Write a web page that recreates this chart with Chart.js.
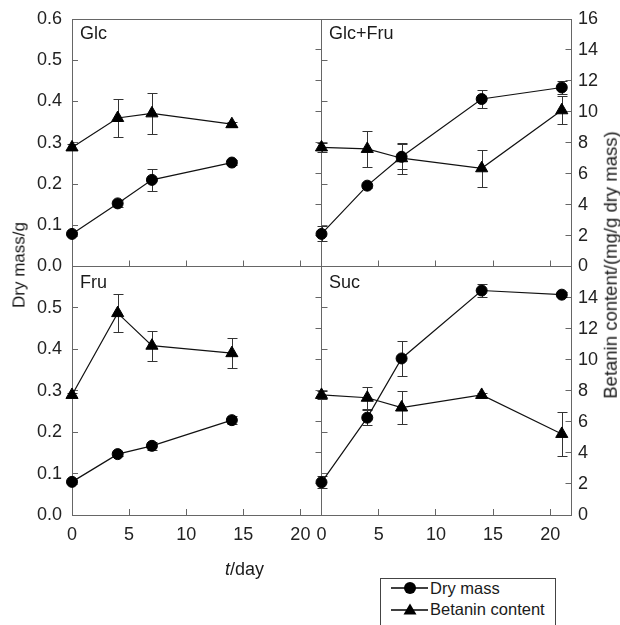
<!DOCTYPE html>
<html><head><meta charset="utf-8">
<script src="https://cdn.jsdelivr.net/npm/chart.js@4/dist/chart.umd.min.js"></script>
<style>
html,body{margin:0;padding:0;background:#fff;}
#wrap{position:relative;width:620px;height:625px;overflow:hidden;font-family:"Liberation Sans",Arial,sans-serif;color:#1a1a1a;}
#wrap canvas{position:absolute;left:0;top:0;}
.t{position:absolute;white-space:nowrap;font-size:18px;line-height:18px;}
.rot{position:absolute;white-space:nowrap;font-size:17px;line-height:17px;transform:translate(-50%,-50%) rotate(-90deg);}
#legend{position:absolute;left:380px;top:578px;width:174px;height:60px;border:1px solid #444;background:#fff;}
#legend .row{position:absolute;left:10px;height:16px;font-size:16.5px;line-height:16.5px;}
#legend svg{position:absolute;left:0;top:0;}
#legend span{position:absolute;left:39px;top:0;white-space:nowrap;}
</style></head>
<body>
<div id="wrap">
  <canvas id="cTL" width="620" height="625"></canvas>
  <canvas id="cTR" width="620" height="625"></canvas>
  <canvas id="cBL" width="620" height="625"></canvas>
  <canvas id="cBR" width="620" height="625"></canvas>
  <div class="t" id="nTL" style="left:80px;top:24px;">Glc</div>
  <div class="t" id="nTR" style="left:329px;top:24px;">Glc+Fru</div>
  <div class="t" id="nBL" style="left:80px;top:273px;">Fru</div>
  <div class="t" id="nBR" style="left:329px;top:273px;">Suc</div>
  <div class="rot" style="left:18.5px;top:264.5px;">Dry mass/g</div>
  <div class="rot" style="left:611px;top:265px;font-size:18.5px;line-height:18.5px;">Betanin content/(mg/g dry mass)</div>
  <div class="t" style="left:225px;top:560px;"><i>t</i>/day</div>
  <div id="legend">
    <div class="row" style="top:1px;">
      <svg width="40" height="16"><line x1="0" y1="8" x2="37" y2="8" stroke="#000" stroke-width="1.5"/><circle cx="19" cy="8" r="6" fill="#000"/></svg>
      <span>Dry mass</span>
    </div>
    <div class="row" style="top:22px;">
      <svg width="40" height="16"><line x1="0" y1="9" x2="37" y2="9" stroke="#000" stroke-width="1.5"/><polygon points="19,2.5 25.5,13.5 12.5,13.5" fill="#000"/></svg>
      <span>Betanin content</span>
    </div>
  </div>
</div>
<script>
// ---- data ----
const panelNames = ['Glc', 'Glc+Fru', 'Fru', 'Suc'];
const dayTicks = [0, 5, 10, 15, 20];
const dayTickLabels = ['0', '5', '10', '15', '20'];
const dryTicks = [0, 0.1, 0.2, 0.3, 0.4, 0.5, 0.6];
const dryTickLabels = ['0.0', '0.1', '0.2', '0.3', '0.4', '0.5', '0.6'];
const betTicks = [0, 2, 4, 6, 8, 10, 12, 14, 16];
const betTickLabels = ['0', '2', '4', '6', '8', '10', '12', '14', '16'];

const daysShort = [0, 4, 7, 14];
const daysLong = [0, 4, 7, 14, 21];

const glcDry = [0.079, 0.153, 0.210, 0.252];
const glcDryErr = [0.004, 0.008, 0.026, 0.007];
const glcBet = [7.7, 9.6, 9.9, 9.2];
const glcBetErr = [0.2, 1.26, 1.33, 0.15];

const glcFruDry = [0.079, 0.196, 0.266, 0.406, 0.434];
const glcFruDryErr = [0.018, 0.005, 0.03, 0.022, 0.016];
const glcFruBet = [7.7, 7.6, 7.0, 6.35, 10.1];
const glcFruBetErr = [0.28, 1.15, 1.0, 1.18, 0.92];

const fruDry = [0.080, 0.147, 0.167, 0.229];
const fruDryErr = [0.004, 0.004, 0.01, 0.01];
const fruBet = [7.73, 13.0, 10.9, 10.42];
const fruBetErr = [0.15, 1.24, 0.97, 0.95];

const sucDry = [0.079, 0.235, 0.378, 0.542, 0.532];
const sucDryErr = [0.015, 0.018, 0.042, 0.015, 0.006];
const sucBet = [7.73, 7.55, 6.92, 7.73, 5.22];
const sucBetErr = [0.25, 0.72, 1.07, 0.15, 1.43];

// ---- styling ----
const AXIS = '#666';
const TXT = '#222';
const FONT = {family: "'Liberation Sans', Arial, sans-serif", size: 18};
const XMAX = 21.85;
const LW = 60, RW = 45, XH = 40;   // room reserved for tick labels

const errorBars = {
  id: 'errorBars',
  beforeDatasetsDraw(chart) {
    const ctx = chart.ctx;
    chart.data.datasets.forEach((ds, di) => {
      const meta = chart.getDatasetMeta(di);
      const xs = chart.scales[meta.xAxisID], ys = chart.scales[meta.yAxisID];
      ds.data.forEach((p, i) => {
        const e = ds.err[i];
        if (!e) return;
        const x = Math.round(xs.getPixelForValue(p.x)) + 0.5;
        const y1 = Math.round(ys.getPixelForValue(p.y - e)) + 0.5;
        const y2 = Math.round(ys.getPixelForValue(p.y + e)) + 0.5;
        ctx.save();
        ctx.strokeStyle = '#333';
        ctx.lineWidth = 1;
        ctx.beginPath();
        ctx.moveTo(x, y1); ctx.lineTo(x, y2);
        ctx.moveTo(x - 5, y1); ctx.lineTo(x + 5, y1);
        ctx.moveTo(x - 5, y2); ctx.lineTo(x + 5, y2);
        ctx.stroke();
        ctx.restore();
      });
    });
  }
};

function setTicks(values) {
  return s => { s.ticks = values.map(v => ({value: v})); };
}

function panel(id, area, days, dry, dryErr, bet, betErr, show) {
  const W = 620, H = 625;
  const lw = show.left ? LW : 0, rw = show.right ? RW : 0, xh = show.x ? XH : 0;
  const fixW = w => s => { s.width = w; s.paddingTop = 0; s.paddingBottom = 0; };
  const fixH = h => s => { s.height = h; s.paddingLeft = 0; s.paddingRight = 0; };
  return new Chart(document.getElementById(id), {
    type: 'line',
    data: {
      datasets: [
        {
          label: 'Dry mass',
          data: days.map((d, i) => ({x: d, y: dry[i]})),
          err: dryErr,
          xAxisID: 'x', yAxisID: 'yL',
          borderColor: '#111', borderWidth: 1.2,
          pointStyle: 'circle', pointRadius: 5.5, pointBorderWidth: 1,
          pointBackgroundColor: '#000', pointBorderColor: '#000',
          tension: 0, clip: false
        },
        {
          label: 'Betanin content',
          data: days.map((d, i) => ({x: d, y: bet[i]})),
          err: betErr,
          xAxisID: 'x', yAxisID: 'yR',
          borderColor: '#111', borderWidth: 1.2,
          pointStyle: 'triangle', pointRadius: 7, pointBorderWidth: 1,
          pointBackgroundColor: '#000', pointBorderColor: '#000',
          tension: 0, clip: false
        }
      ]
    },
    options: {
      responsive: false, animation: false, devicePixelRatio: 1,
      events: [],
      layout: {padding: {left: area.l - lw, top: area.t, right: W - area.r - rw, bottom: H - area.b - xh}},
      plugins: {legend: {display: false}, tooltip: {enabled: false}},
      scales: {
        x: {
          type: 'linear', position: 'bottom', min: 0, max: XMAX,
          afterBuildTicks: setTicks(dayTicks), afterFit: fixH(xh),
          ticks: {display: show.x, autoSkip: false, maxRotation: 0, color: TXT, font: FONT, padding: 15,
                  callback: (v, i) => dayTickLabels[i]},
          grid: {drawOnChartArea: false, drawTicks: true, tickLength: -6, color: AXIS},
          border: {color: AXIS, width: 1}
        },
        xTop: {
          type: 'linear', position: 'top', min: 0, max: XMAX,
          afterFit: fixH(0),
          ticks: {display: false},
          grid: {display: false},
          border: {color: AXIS, width: 1}
        },
        yL: {
          type: 'linear', position: 'left', min: 0, max: 0.6,
          afterBuildTicks: setTicks(dryTicks), afterFit: fixW(lw),
          ticks: {display: show.left, autoSkip: false, color: TXT, font: FONT, padding: 16,
                  callback: (v, i) => (show.hideTop && i === dryTicks.length - 1) ? '' : dryTickLabels[i]},
          grid: {drawOnChartArea: false, drawTicks: true, tickLength: -6, color: AXIS},
          border: {color: AXIS, width: 1}
        },
        yR: {
          type: 'linear', position: 'right', min: 0, max: 16,
          afterBuildTicks: setTicks(betTicks), afterFit: fixW(rw),
          ticks: {display: show.right, autoSkip: false, color: TXT, font: FONT, padding: 12.5,
                  callback: (v, i) => (show.hideTop && i === betTicks.length - 1) ? '' : betTickLabels[i]},
          grid: {drawOnChartArea: false, drawTicks: true, tickLength: -6, color: AXIS},
          border: {color: AXIS, width: 1}
        }
      }
    },
    plugins: [errorBars]
  });
}

const X0 = 72, XM = 321.5, X1 = 571.5, Y0 = 19, YM = 266.5, Y1 = 515;
panel('cTL', {l: X0, t: Y0, r: XM, b: YM}, daysShort, glcDry, glcDryErr, glcBet, glcBetErr,
      {left: true, right: false, x: false, hideTop: false});
panel('cTR', {l: XM, t: Y0, r: X1, b: YM}, daysLong, glcFruDry, glcFruDryErr, glcFruBet, glcFruBetErr,
      {left: false, right: true, x: false, hideTop: false});
panel('cBL', {l: X0, t: YM, r: XM, b: Y1}, daysShort, fruDry, fruDryErr, fruBet, fruBetErr,
      {left: true, right: false, x: true, hideTop: true});
panel('cBR', {l: XM, t: YM, r: X1, b: Y1}, daysLong, sucDry, sucDryErr, sucBet, sucBetErr,
      {left: false, right: true, x: true, hideTop: true});
</script>
</body></html>
